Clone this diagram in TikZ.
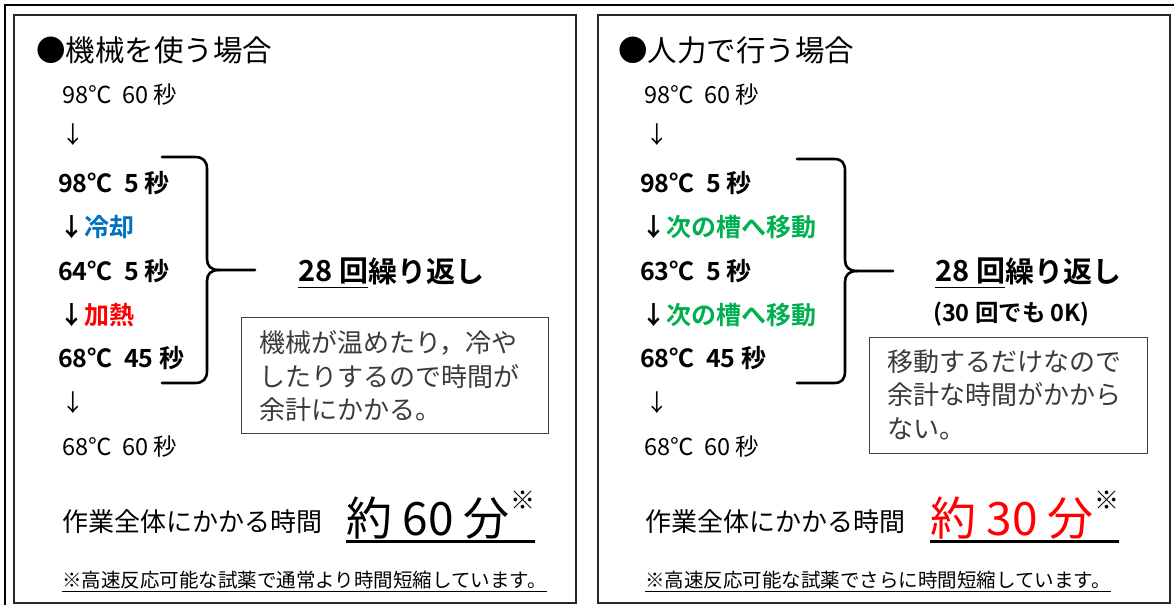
\documentclass[tikz,border=0pt]{standalone}
\usepackage{fontspec}
\setmainfont{Noto Sans CJK JP}[BoldFont={Noto Sans CJK JP Bold}]
\definecolor{coolblue}{HTML}{0070C0}
\definecolor{hotred}{HTML}{FF0000}
\definecolor{movegreen}{HTML}{00B050}
\definecolor{notegray}{HTML}{3A3A3A}
\newcommand{\fs}[1]{\fontsize{#1}{#1}\selectfont}
\begin{document}
\begin{tikzpicture}[x=1pt,y=-1pt,
    every node/.style={anchor=west,inner sep=0pt},
    panel/.style={draw=black!85,line width=1.3pt},
    title/.style={font=\fs{29.5}},
    plain/.style={font=\fs{23.5}},
    bstep/.style={font=\bfseries\fs{25}},
    repeat/.style={font=\bfseries\fs{29}},
    notebox/.style={draw=black!75,line width=1pt,anchor=north west,inner xsep=0pt,inner ysep=0pt,
        minimum height=116pt,text=notegray,font=\fontsize{26}{33.5}\selectfont},
    total/.style={font=\fs{26}},
    big/.style={font=\fs{46}},
    foot/.style={font=\fs{19.5}},
    bracket/.style={line width=2.6pt,line cap=round,line join=round},
    uline/.style={line width=1.4pt},
    thickline/.style={line width=3pt}]
\useasboundingbox (0,0) rectangle (1174,605);
% outer frame and the two panels
\draw[line width=1.6pt] (5,605) -- (5,5) -- (1174,5);
\draw[panel] (14,15) rectangle (576,603);
\draw[panel] (598,15) rectangle (1170,603);

% left panel: machine
\node[title] (ltitle) at (36,50) {●機械を使う場合};
\node[plain] (lstart) at (62,95) {98℃\ \ 60 秒};
\node[plain,anchor=center] (larrow) at (73,135) {↓};
\node[bstep] (ldenat) at (58,183) {98℃\ \ 5 秒};
\node[bstep] (lcool) at (59,227) {↓\textcolor{coolblue}{冷却}};
\node[bstep] (lanneal) at (58,271) {64℃\ \ 5 秒};
\node[bstep] (lheat) at (59,315) {↓\textcolor{hotred}{加熱}};
\node[bstep] (lext) at (58,358) {68℃\ \ 45 秒};
\node[plain,anchor=center] (larrowb) at (73,403) {↓};
\node[plain] (lend) at (62,447) {68℃\ \ 60 秒};
\draw[bracket] (162,157) -- (195,157) .. controls (203,157) and (207,161) .. (207,169) -- (207,259)
    .. controls (207,266) and (211,270) .. (219,270) -- (255,270);
\draw[bracket] (219,270) .. controls (211,270) and (207,274) .. (207,281) -- (207,371)
    .. controls (207,379) and (203,383) .. (195,383) -- (162,383);
\node[repeat] (lcount) at (298,271) {28 回};
\node[repeat] (lrepeat) at (lcount.east) {繰り返し};
\draw[uline] ([yshift=-3pt]lcount.south west) -- ([yshift=-3pt]lcount.south east);
\node[notebox,minimum width=307pt] (lnote) at (241,317) {};
\node[notebox,draw=none,minimum height=0pt,align=left,anchor=north west] (lnotetext) at (259,330)
    {機械が温めたり，冷や\\したりするので時間が\\余計にかかる。};
\node[total] (ltime) at (62,522) {作業全体にかかる時間};
\node[big] (ltotal) at (346,518) {約 60 分};
\node[font=\fs{25},anchor=north west] (lmark) at ([yshift=6pt]ltotal.north east) {※};
\draw[thickline] ([yshift=-2pt]ltotal.south west) -- ([yshift=-2pt]ltotal.south west -| lmark.east);
\node[foot] (lfoot) at (62,580) {※高速反応可能な試薬で通常より時間短縮しています。};
\draw[uline] ([yshift=-2pt]lfoot.south west) -- ([yshift=-2pt]lfoot.south east);

% right panel: by hand
\node[title] (rtitle) at (618,50) {●人力で行う場合};
\node[plain] (rstart) at (644,95) {98℃\ \ 60 秒};
\node[plain,anchor=center] (rarrow) at (657,135) {↓};
\node[bstep] (rdenat) at (640,183) {98℃\ \ 5 秒};
\node[bstep] (rmove) at (641,227) {↓\textcolor{movegreen}{次の槽へ移動}};
\node[bstep] (ranneal) at (640,271) {63℃\ \ 5 秒};
\node[bstep] (rmoveb) at (641,315) {↓\textcolor{movegreen}{次の槽へ移動}};
\node[bstep] (rext) at (640,358) {68℃\ \ 45 秒};
\node[plain,anchor=center] (rarrowb) at (657,403) {↓};
\node[plain] (rend) at (644,447) {68℃\ \ 60 秒};
\draw[bracket] (797,159) -- (834,159) .. controls (842,159) and (845,163) .. (845,171) -- (845,260)
    .. controls (845,267) and (849,271) .. (857,271) -- (893,271);
\draw[bracket] (857,271) .. controls (849,271) and (845,275) .. (845,282) -- (845,371)
    .. controls (845,379) and (842,383) .. (834,383) -- (797,383);
\node[repeat] (rcount) at (935,271) {28 回};
\node[repeat] (rrepeat) at (rcount.east) {繰り返し};
\draw[uline] ([yshift=-3pt]rcount.south west) -- ([yshift=-3pt]rcount.south east);
\node[bstep,font=\bfseries\fs{23.5}] (rok) at (933,314) {(30 回でも 0K)};
\node[notebox,minimum width=278pt] (rnote) at (869,337) {};
\node[notebox,draw=none,minimum height=0pt,align=left,anchor=north west] (rnotetext) at (887,349)
    {移動するだけなので\\余計な時間がかから\\ない。};
\node[total] (rtime) at (645,522) {作業全体にかかる時間};
\node[big,text=hotred] (rtotal) at (930,518) {約 30 分};
\node[font=\fs{25},anchor=north west] (rmark) at ([yshift=6pt]rtotal.north east) {※};
\draw[thickline] ([yshift=-2pt]rtotal.south west) -- ([yshift=-2pt]rtotal.south west -| rmark.east);
\node[foot] (rfoot) at (645,580) {※高速反応可能な試薬でさらに時間短縮しています。};
\draw[uline] ([yshift=-2pt]rfoot.south west) -- ([yshift=-2pt]rfoot.south east);
\end{tikzpicture}
\end{document}
